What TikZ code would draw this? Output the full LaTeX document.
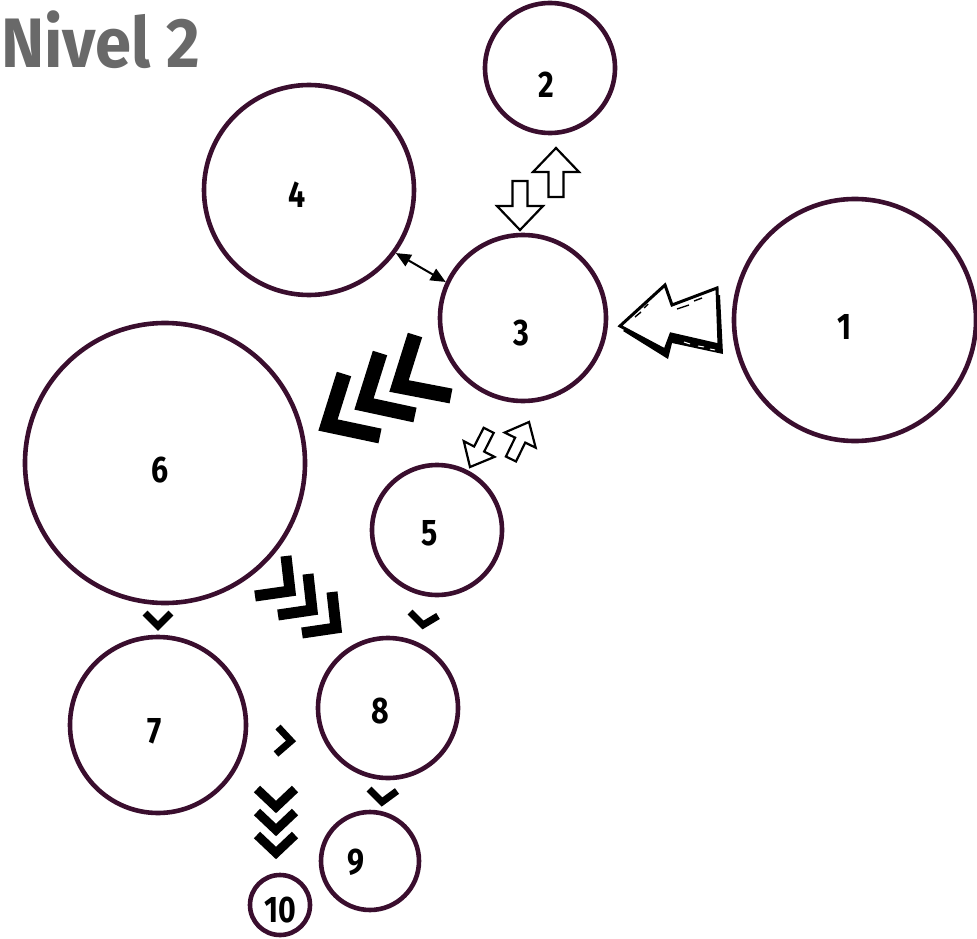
\documentclass[tikz,border=0pt]{standalone}
\usepackage{fontspec}
\setmainfont{Fira Sans}
\usetikzlibrary{arrows.meta}
\definecolor{ringc}{RGB}{58,14,46}
\definecolor{titlegray}{RGB}{105,105,105}
\begin{document}
\begin{tikzpicture}[x=1pt,y=-1pt,
  ring/.style={circle, draw=ringc, line width=4.6pt, inner sep=0pt, minimum size=#1},
  num/.style={font=\bfseries\fontsize{37}{37}\selectfont, inner sep=0pt},
  chev/.style={draw=black, line width=#1, line join=miter, line cap=butt},
  hollowarrow/.pic={\draw[line width=2.2pt, fill=white, line join=miter]
     (0,0) -- (23,24) -- (7.5,24) -- (7.5,49) -- (-7.5,49) -- (-7.5,24) -- (-23,24) -- cycle;},
]
\useasboundingbox (0,0) rectangle (977,939);
% title
\node[anchor=base west, inner sep=0pt, text=titlegray, font=\bfseries\fontsize{70}{70}\selectfont] (title) at (1,68) {\scalebox{0.93}[1]{Nivel 2}};
% circles
\node[ring=242pt] (c1) at (855,320) {};
\node[ring=130pt] (c2) at (550,68) {};
\node[ring=166pt] (c3) at (523,318) {};
\node[ring=210pt] (c4) at (309,190) {};
\node[ring=130pt] (c5) at (437,530) {};
\node[ring=280pt] (c6) at (165,463) {};
\node[ring=176pt] (c7) at (158,725) {};
\node[ring=140pt] (c8) at (388,708) {};
\node[ring=98pt]  (c9) at (370,861) {};
\node[ring=60pt]  (c10) at (280,905) {};
% labels
\node[num] (l1) at (845,327) {\scalebox{0.82}[1]{1}};
\node[num] (l2) at (546,85) {\scalebox{0.82}[1]{2}};
\node[num] (l3) at (521,333) {\scalebox{0.82}[1]{3}};
\node[num] (l4) at (297,195) {\scalebox{0.82}[1]{4}};
\node[num] (l5) at (430,533) {\scalebox{0.82}[1]{5}};
\node[num] (l6) at (160,470) {\scalebox{0.82}[1]{6}};
\node[num] (l7) at (155,731) {\scalebox{0.82}[1]{7}};
\node[num] (l8) at (380,711) {\scalebox{0.82}[1]{8}};
\node[num] (l9) at (356,862) {\scalebox{0.82}[1]{9}};
\node[num] (l10) at (280,910) {\scalebox{0.82}[1]{10}};
% 4 <-> 3
\draw[line width=2pt, {Triangle[length=15pt,width=13pt]}-{Triangle[length=15pt,width=13pt]}] (c4.-36) -- (c3.155);
% 2 <-> 3 hollow arrows
\pic at (556,148) {hollowarrow};
\pic[rotate=180] at (520,230) {hollowarrow};
% 3 <-> 5 small hollow arrows
\pic[rotate=-26, xscale=0.75, yscale=0.84] at (529,422) {hollowarrow};
\pic[rotate=153, xscale=0.75, yscale=0.84] at (470,467) {hollowarrow};
% 1 -> 3 big sketch arrow
\fill[black] (623,331) -- (666,292) -- (673,311) -- (720,295) -- (723,354) -- (672,343) -- (668,359) -- cycle;
\draw[line width=3pt, fill=white, line join=miter]
  (620,326) -- (665,285) -- (672,305) -- (717,288) -- (719,345) -- (671,334) -- (665,350) -- cycle;
\draw[white, line width=1pt] (636,344) -- (640,347) (648,351) -- (652,354)
  (684,342) -- (690,344) (698,346) -- (704,347) (710,349) -- (715,350);
\draw[black, line width=1.4pt] (677,309) -- (689,305) (694,301) -- (702,298) (635,317) -- (641,312) (644,308) -- (648,304);
% 3 -> 6 big chevrons
\draw[chev=15pt] (415,335) -- (399,386) -- (451,396);
\draw[chev=15pt] (380,353) -- (364,404) -- (415,415);
\draw[chev=15pt] (344,374) -- (328,425) -- (380,436);
% 6 -> 8 chevrons
\draw[chev=11pt] (286,556) -- (290,591) -- (255,596);
\draw[chev=11pt] (308,574) -- (312,610) -- (278,615);
\draw[chev=11pt] (332,592) -- (336,628) -- (302,633);
% small chevrons
\draw[chev=7pt] (145,613) -- (158,626) -- (171,613);
\draw[chev=7pt] (410,612) -- (423,625) -- (438,616);
\draw[chev=7pt] (278,727) -- (291,741) -- (276,754);
\draw[chev=7pt] (369,789) -- (382,802) -- (397,791);
% triple chevron 7 -> 10
\foreach \d in {0,23,46}{
  \draw[chev=9pt] (257,789+\d) -- (276,807+\d) -- (295,789+\d);
}
\end{tikzpicture}
\end{document}
